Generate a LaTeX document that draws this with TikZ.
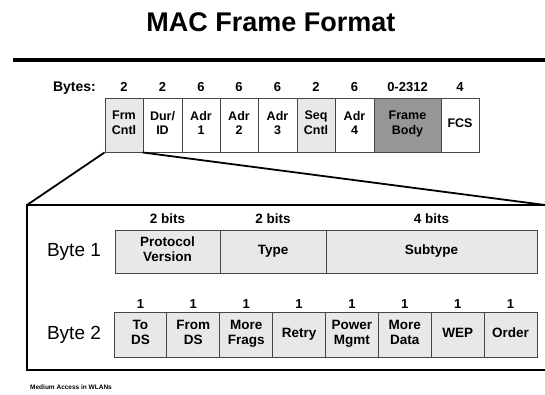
\documentclass[tikz,border=0pt]{standalone}
\usepackage{fontspec}
\setmainfont{Liberation Sans}
\definecolor{lightfill}{RGB}{232,232,232}
\definecolor{darkfill}{RGB}{150,150,150}
\definecolor{edgegray}{RGB}{70,70,70}
\begin{document}
\begin{tikzpicture}[x=1pt,y=-1pt,
  topbox/.style={draw=edgegray,line width=0.9pt,minimum height=54pt,inner sep=0pt,align=center,
    font=\bfseries\fontsize{12.5}{14.5}\selectfont,
    execute at begin node=\strut, execute at end node=\strut},
  lowbox/.style={draw=edgegray,line width=0.9pt,inner sep=0pt,align=center,fill=lightfill,
    font=\bfseries\fontsize{13.5}{15.5}\selectfont,
    execute at begin node=\strut, execute at end node=\strut},
  numlbl/.style={inner sep=0pt,anchor=base,font=\bfseries\fontsize{13}{14}\selectfont},
  bitlbl/.style={inner sep=0pt,anchor=base,font=\bfseries\fontsize{13.5}{14}\selectfont},
  bytelbl/.style={inner sep=0pt,font=\fontsize{19}{21}\selectfont},
  zoomline/.style={line width=1.8pt},
  frameline/.style={line width=2.4pt}]
\useasboundingbox (0,0) rectangle (545,394);
% title
\node[inner sep=0pt,font=\bfseries\fontsize{27}{30}\selectfont] (title) at (271,22) {MAC Frame Format};
\draw[line width=3.5pt] (13,60) -- (545,60);
% bytes row
\node[numlbl,anchor=base east,font=\bfseries\fontsize{14}{15}\selectfont] (byteshdr) at (96,91.5) {Bytes:};
\node[numlbl] (n1) at (124,91.5) {2};
\node[numlbl] (n2) at (162.5,91.5) {2};
\node[numlbl] (n3) at (201,91.5) {6};
\node[numlbl] (n4) at (239,91.5) {6};
\node[numlbl] (n5) at (277.5,91.5) {6};
\node[numlbl] (n6) at (316,91.5) {2};
\node[numlbl] (n7) at (354.5,91.5) {6};
\node[numlbl] (n8) at (407.5,91.5) {0-2312};
\node[numlbl] (n9) at (460,91.5) {4};
\node[topbox,fill=lightfill,minimum width=38pt] (frm) at (124,125) {Frm\\Cntl};
\node[topbox,minimum width=39pt] (dur) at (162.5,125) {Dur/\\ID};
\node[topbox,minimum width=38pt] (a1) at (201,125) {Adr\\1};
\node[topbox,minimum width=38pt] (a2) at (239,125) {Adr\\2};
\node[topbox,minimum width=39pt] (a3) at (277.5,125) {Adr\\3};
\node[topbox,fill=lightfill,minimum width=38pt] (seq) at (316,125) {Seq\\Cntl};
\node[topbox,minimum width=39pt] (a4) at (354.5,125) {Adr\\4};
\node[topbox,fill=darkfill,minimum width=67pt] (body) at (407.5,125) {Frame\\Body};
\node[topbox,minimum width=38pt] (fcs) at (460,125) {FCS};
% zoom lines
\coordinate (zl) at (27,205);
\coordinate (zr) at (545,205);
\draw[zoomline] (frm.south west) -- (zl);
\draw[zoomline] (dur.south west) -- (zr);
% detail frame
\draw[frameline] (545,205) -- (27,205) -- (27,370) -- (545,370);
% byte 1
\node[bytelbl] (b1) at (74,252) {Byte 1};
\node[bitlbl] (bits1) at (167.5,223) {2 bits};
\node[bitlbl] (bits2) at (273,223) {2 bits};
\node[bitlbl] (bits3) at (431.5,223) {4 bits};
\node[lowbox,minimum width=105pt,minimum height=43pt] (pv) at (167.5,251.5) {Protocol\\Version};
\node[lowbox,minimum width=106pt,minimum height=43pt] (ty) at (273,251.5) {Type};
\node[lowbox,minimum width=211pt,minimum height=43pt] (st) at (431.5,251.5) {Subtype};
% byte 2
\node[bytelbl] (b2) at (74,335) {Byte 2};
\foreach \i/\c/\t in {0/tods/To\\DS,1/fromds/From\\DS,2/morefr/More\\Frags,3/retry/Retry,4/pwr/Power\\Mgmt,5/moredata/More\\Data,6/wep/WEP,7/order/Order}{
  \node[numlbl] (one\i) at ({114+26.44+\i*52.875},308) {1};
  \node[lowbox,minimum width=52.875pt,minimum height=45pt] (\c) at ({114+26.44+\i*52.875},334.5) {\t};
}
% footer
\node[anchor=west,inner sep=0pt,font=\bfseries\fontsize{6.5}{7}\selectfont] (foot) at (30,387) {Medium Access in WLANs};
\end{tikzpicture}
\end{document}
